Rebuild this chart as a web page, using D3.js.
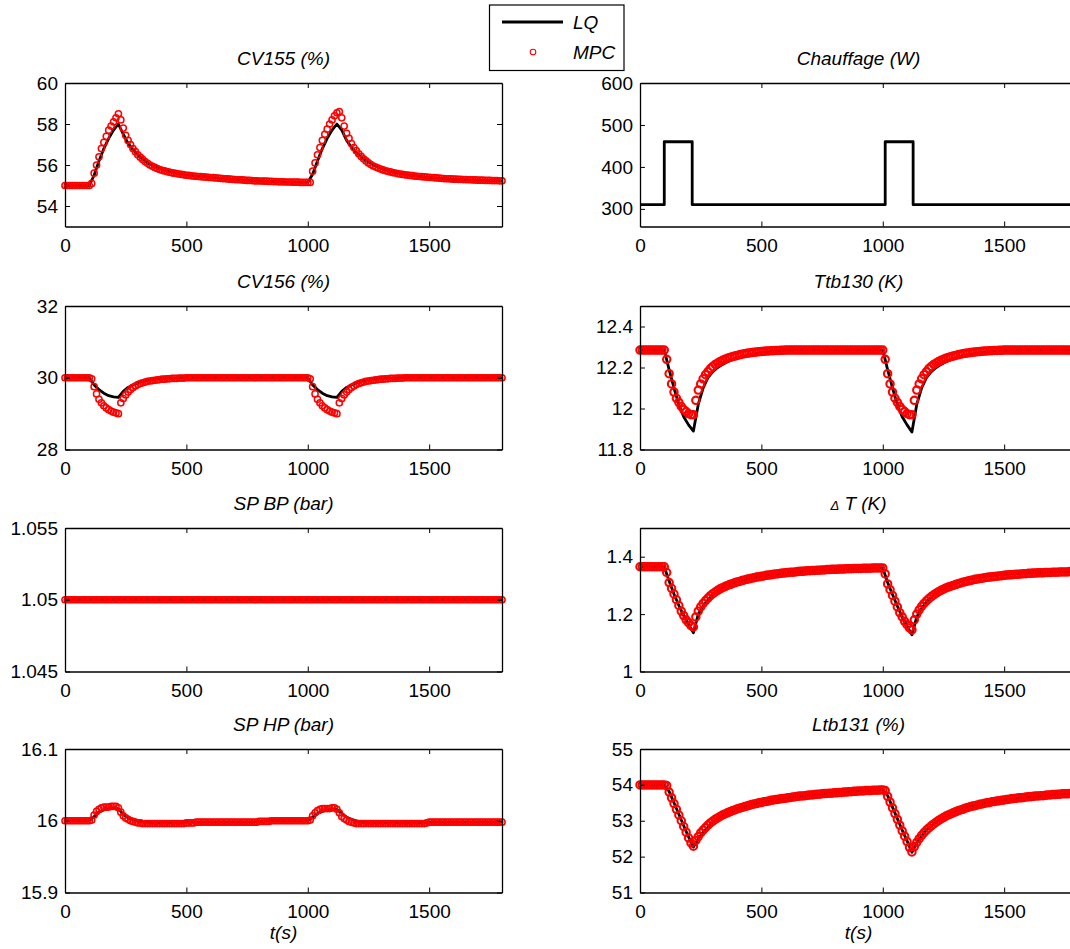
<!DOCTYPE html>
<html><head><meta charset="utf-8">
<script src="https://cdn.jsdelivr.net/npm/d3@7"></script>
<style>body{margin:0;background:#fff;overflow:hidden} text{font-family:"Liberation Sans",Arial,sans-serif}</style>
</head><body><svg id="c" width="1070" height="949"></svg>
<script>
// ---------------- data ----------------
// MPC samples every 10 s (0..1800), LQ samples every 20 s (0..1800)
const xTicks = [0, 500, 1000, 1500];

const cv155Ticks = [54, 56, 58, 60];
const cv155MPC = [
55,55,55,55,55,55,55,55,55,55,
55,55.1,55.6,56,56.4,56.8,57.1,57.4,57.7,57.9,
58.1,58.3,58.5,58.2,57.8,57.45,57.2,57,56.8,56.65,
56.5,56.38,56.27,56.17,56.08,56,55.94,55.88,55.83,55.78,
55.74,55.71,55.68,55.65,55.62,55.6,55.58,55.56,55.54,55.52,
55.5,55.49,55.47,55.46,55.45,55.44,55.43,55.42,55.41,55.4,
55.39,55.38,55.37,55.36,55.35,55.34,55.33,55.32,55.31,55.3,
55.29,55.28,55.28,55.27,55.26,55.25,55.25,55.24,55.23,55.23,
55.22,55.22,55.21,55.21,55.2,55.2,55.19,55.19,55.18,55.18,
55.18,55.17,55.17,55.17,55.16,55.16,55.16,55.15,55.15,55.15,
55.15,55.15,55.7,56.1,56.5,56.85,57.2,57.5,57.75,58,
58.2,58.4,58.55,58.6,58.3,57.9,57.55,57.3,57.05,56.85,
56.7,56.55,56.42,56.3,56.2,56.1,56.02,55.95,55.9,55.85,
55.8,55.76,55.72,55.69,55.66,55.63,55.61,55.58,55.56,55.54,
55.52,55.51,55.49,55.48,55.46,55.45,55.44,55.43,55.42,55.41,
55.4,55.39,55.38,55.37,55.36,55.35,55.34,55.33,55.33,55.32,
55.31,55.31,55.3,55.3,55.29,55.29,55.28,55.28,55.27,55.27,
55.26,55.26,55.26,55.25,55.25,55.25,55.24,55.24,55.24,55.23,55.23];
const cv155LQ = [
55,55,55,55,55,55,55.5,56.2,56.8,57.3,
57.7,58,57.5,57.05,56.75,56.5,56.28,56.1,55.97,55.87,
55.78,55.71,55.65,55.6,55.56,55.52,55.49,55.46,55.44,55.42,
55.39,55.37,55.35,55.33,55.31,55.29,55.27,55.26,55.25,55.23,
55.22,55.21,55.2,55.19,55.18,55.17,55.17,55.16,55.16,55.15,
55.15,55.55,56.2,56.8,57.3,57.7,58,57.7,57.2,56.85,
56.6,56.4,56.22,56.07,55.95,55.85,55.77,55.7,55.64,55.59,
55.54,55.5,55.47,55.44,55.41,55.39,55.37,55.35,55.33,55.31,
55.3,55.29,55.28,55.27,55.26,55.26,55.25,55.25,55.24,55.24,
55.23];

const heatTicks = [300, 400, 500, 600];
const heatT = [0, 100, 215, 1010, 1125, 1800];
const heatW = [310, 460, 310, 460, 310, 310];

const cv156Ticks = [28, 30, 32];
const cv156MPC = [
30,30,30,30,30,30,30,30,30,30,
30,29.97,29.75,29.55,29.4,29.3,29.22,29.16,29.11,29.07,
29.04,29.02,29,29.3,29.42,29.52,29.6,29.67,29.73,29.77,
29.81,29.84,29.86,29.88,29.9,29.91,29.92,29.93,29.94,29.95,
29.96,29.96,29.97,29.97,29.98,29.98,29.98,29.99,29.99,29.99,
30,30,30,30,30,30,30,30,30,30,
30,30,30,30,30,30,30,30,30,30,
30,30,30,30,30,30,30,30,30,30,
30,30,30,30,30,30,30,30,30,30,
30,30,30,30,30,30,30,30,30,30,
30,29.97,29.75,29.55,29.4,29.3,29.22,29.16,29.11,29.07,
29.04,29.02,29,29.3,29.42,29.52,29.6,29.67,29.73,29.77,
29.81,29.84,29.86,29.88,29.9,29.91,29.92,29.93,29.94,29.95,
29.96,29.96,29.97,29.97,29.98,29.98,29.98,29.99,29.99,29.99,
30,30,30,30,30,30,30,30,30,30,
30,30,30,30,30,30,30,30,30,30,
30,30,30,30,30,30,30,30,30,30,
30,30,30,30,30,30,30,30,30,30,30];
const cv156LQ = [
30,30,30,30,30,30,29.8,29.67,29.57,29.5,
29.47,29.45,29.62,29.73,29.8,29.86,29.9,29.93,29.95,29.97,
29.98,29.98,29.99,29.99,30,30,30,30,30,30,
30,30,30,30,30,30,30,30,30,30,
30,30,30,30,30,30,30,30,30,30,
30,29.8,29.67,29.57,29.5,29.47,29.45,29.62,29.73,29.8,
29.86,29.9,29.93,29.95,29.97,29.98,29.98,29.99,29.99,30,
30,30,30,30,30,30,30,30,30,30,
30,30,30,30,30,30,30,30,30,30,
30];

const ttbTicks = [11.8, 12, 12.2, 12.4];
const ttbMPC = [
12.285,12.285,12.285,12.285,12.285,12.285,12.285,12.285,12.285,12.285,
12.285,12.24,12.17,12.12,12.08,12.05,12.03,12.01,11.995,11.985,
11.975,11.97,11.97,12.04,12.09,12.12,12.145,12.165,12.18,12.195,
12.205,12.215,12.222,12.229,12.235,12.24,12.245,12.249,12.253,12.256,
12.259,12.262,12.265,12.267,12.269,12.271,12.273,12.274,12.276,12.277,
12.278,12.279,12.28,12.281,12.282,12.282,12.283,12.283,12.284,12.284,
12.285,12.285,12.285,12.285,12.285,12.285,12.285,12.285,12.285,12.285,
12.285,12.285,12.285,12.285,12.285,12.285,12.285,12.285,12.285,12.285,
12.285,12.285,12.285,12.285,12.285,12.285,12.285,12.285,12.285,12.285,
12.285,12.285,12.285,12.285,12.285,12.285,12.285,12.285,12.285,12.285,
12.285,12.24,12.17,12.12,12.08,12.05,12.03,12.01,11.995,11.985,
11.975,11.97,11.97,12.04,12.09,12.12,12.145,12.165,12.18,12.195,
12.205,12.215,12.222,12.229,12.235,12.24,12.245,12.249,12.253,12.256,
12.259,12.262,12.265,12.267,12.269,12.271,12.273,12.274,12.276,12.277,
12.278,12.279,12.28,12.281,12.282,12.282,12.283,12.283,12.284,12.284,
12.285,12.285,12.285,12.285,12.285,12.285,12.285,12.285,12.285,12.285,
12.285,12.285,12.285,12.285,12.285,12.285,12.285,12.285,12.285,12.285,
12.285,12.285,12.285,12.285,12.285,12.285,12.285,12.285,12.285,12.285,12.285];
const ttbLQ = [
12.285,12.285,12.285,12.285,12.285,12.285,12.19,12.1,12.02,11.96,
11.92,11.89,12.02,12.1,12.15,12.18,12.2,12.215,12.228,12.238,
12.246,12.253,12.259,12.264,12.268,12.272,12.275,12.278,12.28,12.282,
12.283,12.284,12.285,12.285,12.285,12.285,12.285,12.285,12.285,12.285,
12.285,12.285,12.285,12.285,12.285,12.285,12.285,12.285,12.285,12.285,
12.285,12.19,12.1,12.02,11.96,11.92,11.885,12.02,12.1,12.15,
12.18,12.2,12.215,12.228,12.238,12.246,12.253,12.259,12.264,12.268,
12.272,12.275,12.278,12.28,12.282,12.283,12.284,12.285,12.285,12.285,
12.285,12.285,12.285,12.285,12.285,12.285,12.285,12.285,12.285,12.285,
12.285];

const spbpTicks = [1.045, 1.05, 1.055];
const spbpMPC = [
1.05,1.05,1.05,1.05,1.05,1.05,1.05,1.05,1.05,1.05,
1.05,1.05,1.05,1.05,1.05,1.05,1.05,1.05,1.05,1.05,
1.05,1.05,1.05,1.05,1.05,1.05,1.05,1.05,1.05,1.05,
1.05,1.05,1.05,1.05,1.05,1.05,1.05,1.05,1.05,1.05,
1.05,1.05,1.05,1.05,1.05,1.05,1.05,1.05,1.05,1.05,
1.05,1.05,1.05,1.05,1.05,1.05,1.05,1.05,1.05,1.05,
1.05,1.05,1.05,1.05,1.05,1.05,1.05,1.05,1.05,1.05,
1.05,1.05,1.05,1.05,1.05,1.05,1.05,1.05,1.05,1.05,
1.05,1.05,1.05,1.05,1.05,1.05,1.05,1.05,1.05,1.05,
1.05,1.05,1.05,1.05,1.05,1.05,1.05,1.05,1.05,1.05,
1.05,1.05,1.05,1.05,1.05,1.05,1.05,1.05,1.05,1.05,
1.05,1.05,1.05,1.05,1.05,1.05,1.05,1.05,1.05,1.05,
1.05,1.05,1.05,1.05,1.05,1.05,1.05,1.05,1.05,1.05,
1.05,1.05,1.05,1.05,1.05,1.05,1.05,1.05,1.05,1.05,
1.05,1.05,1.05,1.05,1.05,1.05,1.05,1.05,1.05,1.05,
1.05,1.05,1.05,1.05,1.05,1.05,1.05,1.05,1.05,1.05,
1.05,1.05,1.05,1.05,1.05,1.05,1.05,1.05,1.05,1.05,
1.05,1.05,1.05,1.05,1.05,1.05,1.05,1.05,1.05,1.05,1.05];
const spbpLQT = [0, 1800];
const spbpLQ = [1.05, 1.05];

const dtTicks = [1, 1.2, 1.4];
const dtMPC = [
1.365,1.365,1.365,1.365,1.365,1.365,1.365,1.365,1.365,1.365,
1.365,1.345,1.31,1.29,1.27,1.25,1.23,1.21,1.195,1.18,
1.17,1.16,1.155,1.19,1.21,1.225,1.237,1.247,1.256,1.264,
1.271,1.277,1.283,1.288,1.292,1.296,1.3,1.303,1.306,1.309,
1.312,1.314,1.317,1.319,1.321,1.323,1.325,1.327,1.329,1.33,
1.332,1.333,1.335,1.336,1.337,1.339,1.34,1.341,1.342,1.343,
1.344,1.345,1.346,1.346,1.347,1.348,1.349,1.349,1.35,1.351,
1.351,1.352,1.352,1.353,1.353,1.354,1.354,1.355,1.355,1.356,
1.356,1.356,1.357,1.357,1.357,1.358,1.358,1.358,1.359,1.359,
1.359,1.359,1.36,1.36,1.36,1.36,1.361,1.361,1.361,1.361,
1.361,1.34,1.305,1.285,1.265,1.245,1.225,1.205,1.19,1.175,
1.163,1.152,1.145,1.18,1.2,1.215,1.227,1.237,1.246,1.254,
1.261,1.267,1.273,1.278,1.283,1.287,1.291,1.294,1.297,1.3,
1.303,1.306,1.308,1.311,1.313,1.315,1.317,1.319,1.321,1.322,
1.324,1.325,1.327,1.328,1.329,1.33,1.331,1.332,1.333,1.334,
1.335,1.336,1.337,1.337,1.338,1.339,1.339,1.34,1.341,1.341,
1.342,1.342,1.343,1.343,1.344,1.344,1.344,1.345,1.345,1.345,
1.346,1.346,1.346,1.347,1.347,1.347,1.347,1.348,1.348,1.348,1.348];
const dtLQ = [
1.365,1.365,1.365,1.365,1.365,1.365,1.315,1.27,1.23,1.195,
1.165,1.135,1.2,1.228,1.25,1.268,1.282,1.293,1.302,1.308,
1.313,1.318,1.322,1.326,1.329,1.332,1.335,1.337,1.339,1.341,
1.343,1.345,1.347,1.348,1.35,1.351,1.352,1.353,1.354,1.355,
1.356,1.357,1.357,1.358,1.358,1.359,1.359,1.36,1.36,1.361,
1.361,1.31,1.268,1.228,1.19,1.158,1.128,1.19,1.22,1.243,
1.26,1.274,1.285,1.294,1.301,1.308,1.313,1.318,1.322,1.325,
1.328,1.331,1.333,1.335,1.337,1.338,1.34,1.341,1.342,1.343,
1.344,1.344,1.345,1.345,1.346,1.346,1.347,1.347,1.348,1.348,
1.348];

const sphpTicks = [15.9, 16, 16.1];
const sphpMPC = [
16,16,16,16,16,16,16,16,16,16,
16,16.001,16.008,16.013,16.016,16.018,16.019,16.019,16.019,16.02,
16.02,16.02,16.018,16.012,16.007,16.004,16.002,16,15.999,15.998,
15.997,15.997,15.996,15.996,15.996,15.996,15.996,15.996,15.996,15.996,
15.996,15.996,15.996,15.996,15.996,15.996,15.996,15.996,15.996,15.996,
15.997,15.997,15.997,15.997,15.998,15.998,15.998,15.998,15.998,15.998,
15.998,15.998,15.998,15.998,15.998,15.998,15.998,15.998,15.998,15.998,
15.998,15.998,15.998,15.998,15.998,15.998,15.998,15.998,15.998,15.998,
15.999,15.999,15.999,15.999,15.999,16,16,16,16,16,
16,16,16,16,16,16,16,16,16,16,
16,16.001,16.007,16.011,16.014,16.016,16.017,16.017,16.017,16.017,
16.018,16.018,16.016,16.011,16.006,16.003,16.001,15.999,15.998,15.997,
15.996,15.996,15.996,15.996,15.996,15.996,15.996,15.996,15.996,15.996,
15.996,15.996,15.996,15.996,15.996,15.996,15.996,15.996,15.996,15.996,
15.996,15.996,15.996,15.996,15.996,15.996,15.996,15.996,15.996,15.997,
15.998,15.998,15.998,15.998,15.998,15.998,15.998,15.998,15.998,15.998,
15.998,15.998,15.998,15.998,15.998,15.998,15.998,15.998,15.998,15.998,
15.998,15.998,15.998,15.998,15.998,15.998,15.998,15.998,15.998,15.998,15.998];
const sphpLQ = [
16,16,16,16,16,16,16.006,16.012,16.015,16.017,
16.018,16.017,16.009,16.004,16.002,16,15.999,15.998,15.997,15.997,
15.997,15.997,15.997,15.997,15.997,15.998,15.998,15.998,15.998,15.998,
15.998,15.998,15.998,15.998,15.998,15.998,15.998,15.998,15.998,15.998,
15.999,15.999,16,16,16,16,16,16,16,16,
16,16.005,16.01,16.013,16.015,16.016,16.016,16.01,16.005,16.002,
16,15.998,15.997,15.997,15.997,15.997,15.997,15.997,15.997,15.997,
15.997,15.997,15.997,15.997,15.997,15.998,15.998,15.998,15.998,15.998,
15.998,15.998,15.998,15.998,15.998,15.998,15.998,15.998,15.998,15.998,
15.998];

const ltbTicks = [51, 52, 53, 54, 55];
const ltbMPC = [
54,54,54,54,54,54,54,54,54,54,
54,53.98,53.8,53.64,53.48,53.32,53.16,53,52.84,52.68,
52.52,52.38,52.29,52.45,52.56,52.66,52.74,52.81,52.88,52.94,
52.99,53.04,53.08,53.12,53.16,53.19,53.22,53.25,53.28,53.3,
53.33,53.35,53.37,53.39,53.41,53.43,53.45,53.47,53.48,53.5,
53.51,53.53,53.54,53.55,53.57,53.58,53.59,53.6,53.61,53.62,
53.63,53.64,53.65,53.66,53.67,53.68,53.69,53.69,53.7,53.71,
53.72,53.72,53.73,53.74,53.74,53.75,53.76,53.76,53.77,53.77,
53.78,53.78,53.79,53.79,53.8,53.8,53.81,53.81,53.82,53.82,
53.83,53.83,53.83,53.84,53.84,53.84,53.85,53.85,53.85,53.86,
53.86,53.84,53.68,53.52,53.36,53.2,53.04,52.88,52.72,52.57,
52.42,52.26,52.13,52.28,52.4,52.5,52.59,52.67,52.74,52.8,
52.86,52.91,52.96,53.01,53.05,53.09,53.13,53.16,53.19,53.22,
53.25,53.28,53.3,53.32,53.35,53.37,53.39,53.41,53.42,53.44,
53.46,53.47,53.49,53.5,53.51,53.53,53.54,53.55,53.56,53.57,
53.58,53.59,53.6,53.61,53.62,53.63,53.64,53.64,53.65,53.66,
53.67,53.67,53.68,53.69,53.69,53.7,53.7,53.71,53.72,53.72,
53.73,53.73,53.74,53.74,53.75,53.75,53.75,53.76,53.76,53.77,53.77];
const ltbLQ = [
54,54,54,54,54,54,53.82,53.5,53.18,52.86,
52.55,52.27,52.5,52.68,52.82,52.95,53.05,53.13,53.2,53.27,
53.32,53.37,53.41,53.45,53.48,53.51,53.54,53.56,53.59,53.61,
53.63,53.65,53.67,53.69,53.7,53.72,53.73,53.74,53.76,53.77,
53.78,53.79,53.8,53.81,53.82,53.83,53.83,53.84,53.85,53.86,
53.86,53.7,53.38,53.06,52.74,52.44,52.12,52.38,52.58,52.74,
52.86,52.97,53.06,53.14,53.21,53.27,53.32,53.36,53.4,53.43,
53.46,53.49,53.51,53.54,53.56,53.58,53.6,53.61,53.63,53.64,
53.66,53.67,53.68,53.7,53.71,53.72,53.73,53.74,53.75,53.76,
53.77];

// ---------------- layout ----------------
const FONT = '"Liberation Sans", Arial, Helvetica, sans-serif';
const FS = 19;
const svg = d3.select("#c");
const cols = [{x0: 65, x1: 502, r: 3.1, sw: 1.5}, {x0: 640, x1: 1077, r: 3.7, sw: 2.1}];
const rowTops = [83, 306, 528, 749];
const H = 143.5;

const panels = [
  {title: "CV155 (%)", col: 0, row: 0, dom: [53, 60], ticks: cv155Ticks, lq: cv155LQ, mpc: cv155MPC},
  {title: "Chauffage (W)", col: 1, row: 0, dom: [258, 600], ticks: heatTicks, lq: heatW, lqT: heatT, step: true},
  {title: "CV156 (%)", col: 0, row: 1, dom: [28, 32], ticks: cv156Ticks, lq: cv156LQ, mpc: cv156MPC},
  {title: "Ttb130 (K)", col: 1, row: 1, dom: [11.8, 12.5], ticks: ttbTicks, lq: ttbLQ, mpc: ttbMPC},
  {title: "SP BP (bar)", col: 0, row: 2, dom: [1.045, 1.055], ticks: spbpTicks, lq: spbpLQ, lqT: spbpLQT, mpc: spbpMPC},
  {title: "DT", col: 1, row: 2, dom: [1, 1.5], ticks: dtTicks, lq: dtLQ, mpc: dtMPC},
  {title: "SP HP (bar)", col: 0, row: 3, dom: [15.9, 16.1], ticks: sphpTicks, lq: sphpLQ, mpc: sphpMPC},
  {title: "Ltb131 (%)", col: 1, row: 3, dom: [51, 55], ticks: ltbTicks, lq: ltbLQ, mpc: ltbMPC}
];

function styleAxis(a) {
  a.select(".domain").attr("stroke", "#000").attr("stroke-width", 1.3);
  a.selectAll(".tick line").attr("stroke", "#000").attr("stroke-width", 1);
  a.selectAll("text").attr("font-size", FS).attr("font-family", FONT).attr("fill", "#000");
}

panels.forEach(p => {
  const c = cols[p.col], top = rowTops[p.row], bot = top + H;
  const x = d3.scaleLinear().domain([0, 1800]).range([c.x0, c.x1]);
  const y = d3.scaleLinear().domain(p.dom).range([bot, top]);
  const g = svg.append("g");

  const lqT = p.lqT || p.lq.map((d, i) => i * 20);
  const line = d3.line().x((d, i) => x(lqT[i])).y(d => y(d))
    .curve(p.step ? d3.curveStepAfter : d3.curveLinear);
  g.append("path").datum(p.lq).attr("d", line)
    .attr("fill", "none").attr("stroke", "#000").attr("stroke-width", 2.8)
    .attr("stroke-linejoin", "round");

  if (p.mpc) {
    g.append("g").selectAll("circle").data(p.mpc).join("circle")
      .attr("cx", (d, i) => x(i * 10)).attr("cy", d => y(d)).attr("r", c.r)
      .attr("fill", "none").attr("stroke", "#ff0000").attr("stroke-width", c.sw);
  }

  const ab = g.append("g").attr("transform", `translate(0,${bot})`)
    .call(d3.axisBottom(x).tickValues(xTicks).tickSize(-5).tickSizeOuter(0).tickPadding(12).tickFormat(d3.format("d")));
  styleAxis(ab);
  const at = g.append("g").attr("transform", `translate(0,${top})`)
    .call(d3.axisTop(x).tickValues(xTicks).tickSize(-5).tickSizeOuter(0).tickFormat(""));
  styleAxis(at);
  const al = g.append("g").attr("transform", `translate(${c.x0},0)`)
    .call(d3.axisLeft(y).tickValues(p.ticks).tickSize(-5).tickSizeOuter(0).tickPadding(7).tickFormat(d => String(d)));
  styleAxis(al);
  const ar = g.append("g").attr("transform", `translate(${c.x1},0)`)
    .call(d3.axisRight(y).tickValues(p.ticks).tickSize(-5).tickSizeOuter(0).tickFormat(""));
  styleAxis(ar);

  const tt = g.append("text").attr("x", (c.x0 + c.x1) / 2).attr("y", top - 18)
    .attr("text-anchor", "middle").attr("font-style", "italic")
    .attr("font-size", FS).attr("font-family", FONT).attr("fill", "#000");
  if (p.title === "DT") {
    tt.append("tspan").attr("font-size", 13).attr("font-style", "italic").text("\u0394");
    tt.append("tspan").text(" T (K)");
  } else {
    tt.text(p.title);
  }

  if (p.row === 3) {
    g.append("text").attr("x", (c.x0 + c.x1) / 2).attr("y", 939)
      .attr("text-anchor", "middle").attr("font-style", "italic")
      .attr("font-size", FS).attr("font-family", FONT).text("t(s)");
  }
});

// ---------------- legend ----------------
const lg = svg.append("g");
lg.append("rect").attr("x", 489.5).attr("y", 5).attr("width", 134.5).attr("height", 65.5)
  .attr("fill", "#fff").attr("stroke", "#000").attr("stroke-width", 1.2);
lg.append("line").attr("x1", 502).attr("x2", 563).attr("y1", 22).attr("y2", 22)
  .attr("stroke", "#000").attr("stroke-width", 3);
lg.append("text").attr("x", 573).attr("y", 29).attr("font-style", "italic")
  .attr("font-size", FS).attr("font-family", FONT).text("LQ");
lg.append("circle").attr("cx", 533).attr("cy", 52).attr("r", 2.8)
  .attr("fill", "none").attr("stroke", "#ff0000").attr("stroke-width", 1.1);
lg.append("text").attr("x", 573).attr("y", 59).attr("font-style", "italic")
  .attr("font-size", FS).attr("font-family", FONT).text("MPC");
</script>
</body></html>
